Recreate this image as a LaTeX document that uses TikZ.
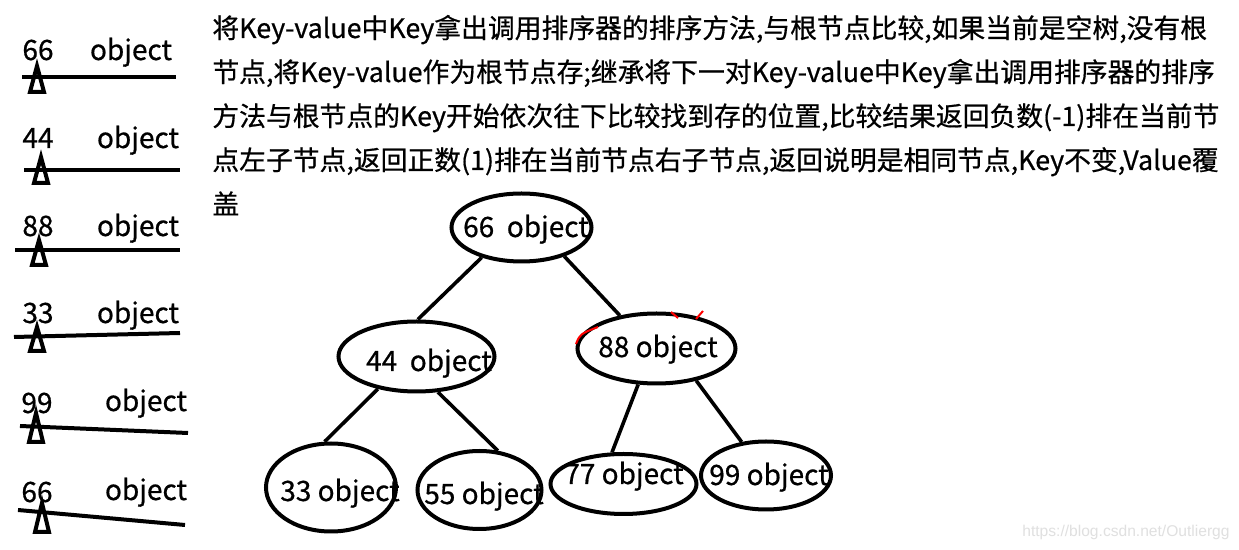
\documentclass[tikz,border=0pt]{standalone}
\usepackage{fontspec}
\setmainfont{Noto Sans CJK SC}[FakeBold=0.6]
\newfontfamily\urlfont{Liberation Sans}
\usetikzlibrary{shapes.geometric}

\begin{document}
\begin{tikzpicture}[x=0.5pt,y=-0.5pt,
    tnode/.style={ellipse,draw,line width=2pt,inner sep=0pt},
    lbl/.style={anchor=base,inner sep=0pt,font=\fontsize{14pt}{16pt}\selectfont},
    para/.style={anchor=base west,inner sep=0pt,font=\fontsize{13.4pt}{16pt}\selectfont},
    bar/.style={line width=2pt},
    pivot/.style={line width=2pt,line join=miter},
    edge/.style={line width=1.8pt}]
    \fill[white] (0,0) rectangle (1239,550);
    \useasboundingbox (0,0) rectangle (1239,550);
    % insertion order on the left
    \node[lbl] (k1) at (38,60) {66};  \node[lbl] (v1) at (131,60) {object};
    \draw[bar] (22,77) -- (176,77);
    \draw[pivot] (37,66) -- (30,92) -- (44,92) -- cycle;
    \node[lbl] (k2) at (38,148) {44}; \node[lbl] (v2) at (138,148) {object};
    \draw[bar] (24,170) -- (180,170);
    \draw[pivot] (41,157) -- (34,183) -- (48,183) -- cycle;
    \node[lbl] (k3) at (38,236) {88}; \node[lbl] (v3) at (138,236) {object};
    \draw[bar] (15,250) -- (180,250);
    \draw[pivot] (39,240) -- (32,265) -- (46,265) -- cycle;
    \node[lbl] (k4) at (38,323) {33}; \node[lbl] (v4) at (138,323) {object};
    \draw[bar] (14,337) -- (180,333);
    \draw[pivot] (37,327) -- (30,351) -- (44,351) -- cycle;
    \node[lbl] (k5) at (37,413) {99}; \node[lbl] (v5) at (146,411) {object};
    \draw[bar] (20,426) -- (188,433);
    \draw[pivot] (36,413) -- (29,442) -- (43,442) -- cycle;
    \node[lbl] (k6) at (37,502) {66}; \node[lbl] (v6) at (146,500) {object};
    \draw[bar] (18,510) -- (185,525);
    \draw[pivot] (42,503) -- (35,532) -- (49,532) -- cycle;
    % explanation
    \node[para] (p1) at (212,38) {将Key-value中Key拿出调用排序器的排序方法,与根节点比较,如果当前是空树,没有根};
    \node[para] (p2) at (212,82) {节点,将Key-value作为根节点存;继承将下一对Key-value中Key拿出调用排序器的排序};
    \node[para] (p3) at (212,126) {方法与根节点的Key开始依次往下比较找到存的位置,比较结果返回负数(-1)排在当前节};
    \node[para] (p4) at (212,170) {点左子节点,返回正数(1)排在当前节点右子节点,返回说明是相同节点,Key不变,Value覆};
    \node[para] (p5) at (212,214) {盖};
    % tree
    \node[tnode,minimum width=70pt,minimum height=34pt] (n66) at (521.5,227.5) {};
    \node[tnode,minimum width=78pt,minimum height=35pt] (n44) at (416.5,356.5) {};
    \node[tnode,minimum width=79pt,minimum height=35pt] (n88) at (656.5,348.5) {};
    \node[tnode,minimum width=65pt,minimum height=44pt] (n33) at (331,487.5) {};
    \node[tnode,minimum width=62pt,minimum height=39pt] (n55) at (479.5,490) {};
    \node[tnode,minimum width=73pt,minimum height=30pt] (n77) at (623.5,484) {};
    \node[tnode,minimum width=65pt,minimum height=34pt] (n99) at (766,475.5) {};
    \node[lbl] (t66) at (526,237) {66\ \ object};
    \node[lbl] (t44) at (429,371) {44\ \ object};
    \node[lbl] (t88) at (658,357) {88 object};
    \node[lbl] (t33) at (340,501) {33 object};
    \node[lbl] (t55) at (484,504) {55 object};
    \node[lbl] (t77) at (624,484) {77 object};
    \node[lbl] (t99) at (769,485) {99 object};
    \draw[edge] (n66.217) -- (n44.88);
    \draw[edge] (n66.326) -- (n88.138);
    \draw[edge] (n44.220) -- (n33.98);
    \draw[edge] (n44.301) -- (n55.65);
    \draw[edge] (n88.243) -- (n77.110);
    \draw[edge] (n88.321) -- (n99.126);
    \draw[red,line width=1pt] (576,344) .. controls (580,334) .. (598,327);
    \draw[red,line width=1pt] (671,312) -- (678,318);
    \draw[red,line width=1pt] (696,319) -- (703,311);
    \node[anchor=base east,inner sep=0pt,text=black!12,font=\urlfont\fontsize{7.8pt}{9pt}\selectfont] (wm) at (1230,537) {https://blog.csdn.net/Outliergg};
\end{tikzpicture}
\end{document}
